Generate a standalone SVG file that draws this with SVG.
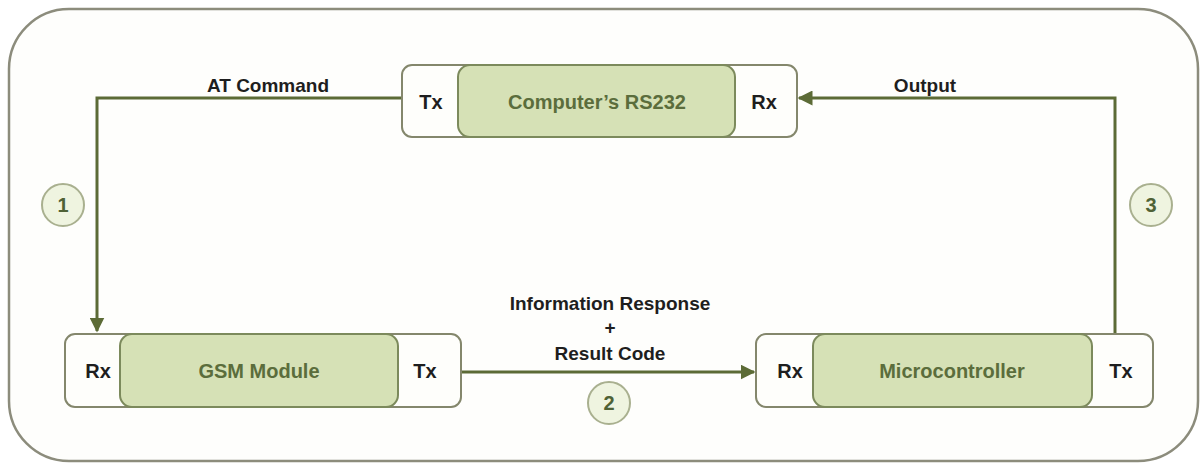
<svg xmlns="http://www.w3.org/2000/svg" width="1203" height="464" viewBox="0 0 1203 464">
<style>
.frame{fill:#fefefc;stroke:#8c8c7c;stroke-width:2.5}
.outer{fill:#fefefb;stroke:#84876c;stroke-width:2}
.inner{fill:#d6e1b6;stroke:#7c8a5c;stroke-width:2}
.port{font-family:"Liberation Sans",Arial,sans-serif;font-weight:bold;font-size:20px;fill:#1e1e1e;text-anchor:middle}
.name{font-family:"Liberation Sans",Arial,sans-serif;font-weight:bold;font-size:20px;fill:#5b6d3c;text-anchor:middle}
.lbl{font-family:"Liberation Sans",Arial,sans-serif;font-weight:bold;font-size:19px;fill:#1e1e1e;text-anchor:middle}
.wire{fill:none;stroke:#5c6b36;stroke-width:3}
.badge circle{fill:#eff4e0;stroke:#a9b08f;stroke-width:2}
.badge text{font-family:"Liberation Sans",Arial,sans-serif;font-weight:bold;font-size:20px;fill:#4f6236;text-anchor:middle}
</style>
<defs>
<marker id="arr" viewBox="0 0 10 10" refX="9" refY="5" markerWidth="5" markerHeight="5" markerUnits="strokeWidth" orient="auto">
<path d="M0,0 L10,5 L0,10 z" fill="#5c6b36"/>
</marker>
</defs>
<rect class="frame" x="9" y="9" width="1189" height="452" rx="60" ry="60"/>
<g id="connectors">
<path class="wire" d="M402,98 H97 V331" marker-end="url(#arr)"/>
<path class="wire" d="M461,372 H754" marker-end="url(#arr)"/>
<path class="wire" d="M1115,333 V98 H799" marker-end="url(#arr)"/>
<text class="lbl" x="268" y="92">AT Command</text>
<text class="lbl" x="925" y="92">Output</text>
<text class="lbl" x="610" y="310">Information Response</text>
<text class="lbl" x="610" y="334">+</text>
<text class="lbl" x="610" y="360">Result Code</text>
</g>
<g id="node-rs232">
<rect class="outer" x="402" y="65" width="395" height="72" rx="10"/>
<rect class="inner" x="458" y="65" width="277" height="72" rx="12"/>
<text class="port" x="431" y="109">Tx</text>
<text class="name" x="597" y="109">Computer’s RS232</text>
<text class="port" x="764" y="109">Rx</text>
</g>
<g id="node-gsm">
<rect class="outer" x="65" y="334" width="396" height="73" rx="10"/>
<rect class="inner" x="120" y="334" width="278" height="73" rx="12"/>
<text class="port" x="98" y="378">Rx</text>
<text class="name" x="259" y="378">GSM Module</text>
<text class="port" x="425" y="378">Tx</text>
</g>
<g id="node-mcu">
<rect class="outer" x="756" y="334" width="397" height="73" rx="10"/>
<rect class="inner" x="813" y="334" width="279" height="73" rx="12"/>
<text class="port" x="790" y="378">Rx</text>
<text class="name" x="952" y="378">Microcontroller</text>
<text class="port" x="1121" y="378">Tx</text>
</g>
<g id="badge-1" class="badge">
<circle cx="63" cy="205" r="21"/>
<text x="63" y="212">1</text>
</g>
<g id="badge-2" class="badge">
<circle cx="609" cy="403" r="21"/>
<text x="609" y="410">2</text>
</g>
<g id="badge-3" class="badge">
<circle cx="1151" cy="205" r="21"/>
<text x="1151" y="212">3</text>
</g>
</svg>
